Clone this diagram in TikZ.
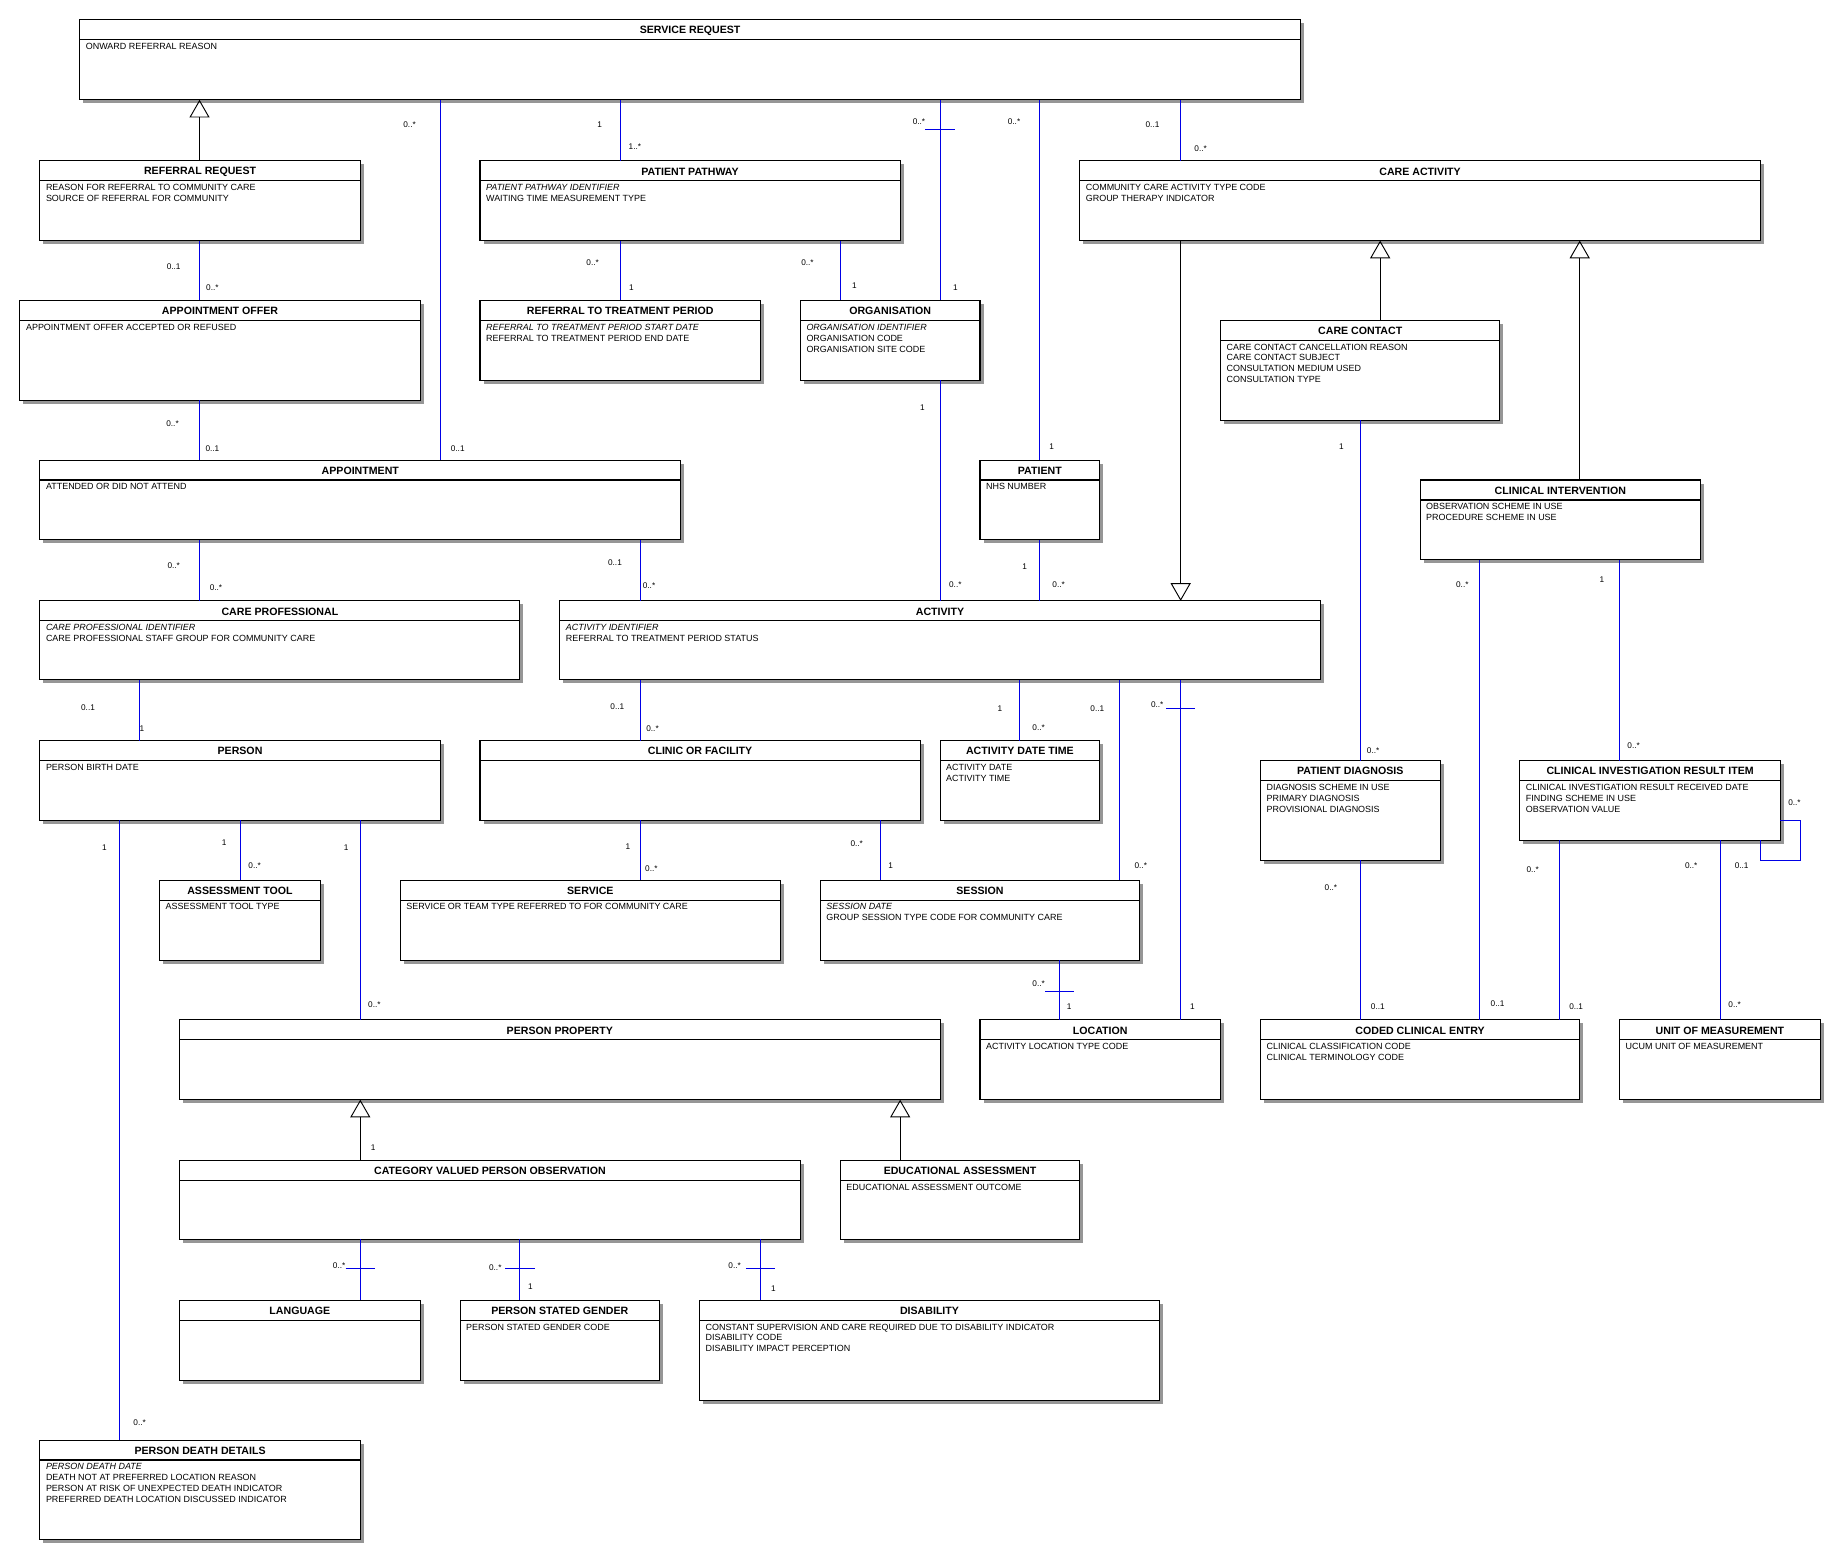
\documentclass[tikz,border=0pt]{standalone}
\usepackage{fontspec}
\setmainfont{Liberation Sans}
\usetikzlibrary{arrows.meta}
\definecolor{assocblue}{RGB}{0,0,230}
\definecolor{shadowgray}{RGB}{150,150,150}
\tikzset{
  clsbox/.style={draw=black, line width=0.9pt, fill=white, rectangle, inner sep=0pt, outer sep=0pt},
  titletext/.style={font=\bfseries\fontsize{9}{10}\selectfont, inner sep=0pt},
  attrtext/.style={font=\fontsize{7.6}{9.3}\selectfont, align=left, inner sep=0pt, anchor=north west},
  mult/.style={font=\fontsize{7}{8}\selectfont, inner sep=0pt},
  assoc/.style={draw=assocblue, line width=0.8pt},
  gen/.style={draw=black, line width=0.8pt, -{Triangle[open, width=17pt, length=15pt]}},
  boxshadow/.style={fill=shadowgray},
  hdrline/.style={draw=black, line width=0.9pt},
}
% #1 name, #2 left, #3 top, #4 right, #5 bottom, #6 title, #7 attributes
\newcommand{\umlcls}[7]{%
  \fill[boxshadow] (#2+3,#3+3) rectangle (#4+3,#5+3);
  \node[clsbox, anchor=north west, minimum width={(#4-#2)*0.995pt}, minimum height={(#5-#3)*0.995pt}] (#1) at (#2,#3) {};
  \draw[hdrline] (#2,#3+17) -- (#4,#3+17);
  \node[titletext] (#1-t) at ({(#2+#4)/2},#3+9) {#6};
  \node[attrtext] (#1-a) at (#2+5,#3+19.7) {#7};
}
\newcommand{\crossbar}[2]{\draw[assoc] (#1-12.5,#2) -- (#1+12.5,#2);}
\begin{document}
\begin{tikzpicture}[x=0.995pt,y=-0.995pt]
\path[fill=white] (0,0) rectangle (1567.8,1329.2);
\useasboundingbox (0,0) rectangle (1567.8,1329.2);

% ---------- classes ----------
\umlcls{sr}{68}{17}{1108}{85}{SERVICE REQUEST}{ONWARD REFERRAL REASON}
\umlcls{rr}{34}{137}{307}{205}{REFERRAL REQUEST}{REASON FOR REFERRAL TO COMMUNITY CARE\\SOURCE OF REFERRAL FOR COMMUNITY}
\umlcls{ppw}{409}{137}{767}{205}{PATIENT PATHWAY}{\textit{PATIENT PATHWAY IDENTIFIER}\\WAITING TIME MEASUREMENT TYPE}
\umlcls{ca}{920}{137}{1500}{205}{CARE ACTIVITY}{COMMUNITY CARE ACTIVITY TYPE CODE\\GROUP THERAPY INDICATOR}
\umlcls{ao}{17}{256}{358}{341}{APPOINTMENT OFFER}{APPOINTMENT OFFER ACCEPTED OR REFUSED}
\umlcls{rttp}{409}{256}{648}{324}{REFERRAL TO TREATMENT PERIOD}{\textit{REFERRAL TO TREATMENT PERIOD START DATE}\\REFERRAL TO TREATMENT PERIOD END DATE}
\umlcls{org}{682}{256}{835}{324}{ORGANISATION}{\textit{ORGANISATION IDENTIFIER}\\ORGANISATION CODE\\ORGANISATION SITE CODE}
\umlcls{cc}{1040}{273}{1278}{358}{CARE CONTACT}{CARE CONTACT CANCELLATION REASON\\CARE CONTACT SUBJECT\\CONSULTATION MEDIUM USED\\CONSULTATION TYPE}
\umlcls{appt}{34}{392}{580}{460}{APPOINTMENT}{ATTENDED OR DID NOT ATTEND}
\umlcls{pat}{835}{392}{937}{460}{PATIENT}{NHS NUMBER}
\umlcls{ci}{1210}{409}{1449}{477}{CLINICAL INTERVENTION}{OBSERVATION SCHEME IN USE\\PROCEDURE SCHEME IN USE}
\umlcls{cp}{34}{512}{443}{579}{CARE PROFESSIONAL}{\textit{CARE PROFESSIONAL IDENTIFIER}\\CARE PROFESSIONAL STAFF GROUP FOR COMMUNITY CARE}
\umlcls{act}{477}{512}{1125}{579}{ACTIVITY}{\textit{ACTIVITY IDENTIFIER}\\REFERRAL TO TREATMENT PERIOD STATUS}
\umlcls{per}{34}{631}{375}{699}{PERSON}{PERSON BIRTH DATE}
\umlcls{cof}{409}{631}{784}{699}{CLINIC OR FACILITY}{}
\umlcls{adt}{801}{631}{937}{699}{ACTIVITY DATE TIME}{ACTIVITY DATE\\ACTIVITY TIME}
\umlcls{pd}{1074}{648}{1227}{733}{PATIENT DIAGNOSIS}{DIAGNOSIS SCHEME IN USE\\PRIMARY DIAGNOSIS\\PROVISIONAL DIAGNOSIS}
\umlcls{ciri}{1295}{648}{1517}{716}{CLINICAL INVESTIGATION RESULT ITEM}{CLINICAL INVESTIGATION RESULT RECEIVED DATE\\FINDING SCHEME IN USE\\OBSERVATION VALUE}
\umlcls{at}{136}{750}{273}{818}{ASSESSMENT TOOL}{ASSESSMENT TOOL TYPE}
\umlcls{svc}{341}{750}{665}{818}{SERVICE}{SERVICE OR TEAM TYPE REFERRED TO FOR COMMUNITY CARE}
\umlcls{ses}{699}{750}{971}{818}{SESSION}{\textit{SESSION DATE}\\GROUP SESSION TYPE CODE FOR COMMUNITY CARE}
\umlcls{pp}{153}{869}{801}{937}{PERSON PROPERTY}{}
\umlcls{loc}{835}{869}{1040}{937}{LOCATION}{ACTIVITY LOCATION TYPE CODE}
\umlcls{cce}{1074}{869}{1346}{937}{CODED CLINICAL ENTRY}{CLINICAL CLASSIFICATION CODE\\CLINICAL TERMINOLOGY CODE}
\umlcls{uom}{1380}{869}{1551}{937}{UNIT OF MEASUREMENT}{UCUM UNIT OF MEASUREMENT}
\umlcls{cvpo}{153}{989}{682}{1056}{CATEGORY VALUED PERSON OBSERVATION}{}
\umlcls{ea}{716}{989}{920}{1056}{EDUCATIONAL ASSESSMENT}{EDUCATIONAL ASSESSMENT OUTCOME}
\umlcls{lang}{153}{1108}{358}{1176}{LANGUAGE}{}
\umlcls{psg}{392}{1108}{562}{1176}{PERSON STATED GENDER}{PERSON STATED GENDER CODE}
\umlcls{dis}{596}{1108}{988}{1193}{DISABILITY}{CONSTANT SUPERVISION AND CARE REQUIRED DUE TO DISABILITY INDICATOR\\DISABILITY CODE\\DISABILITY IMPACT PERCEPTION}
\umlcls{pdd}{34}{1227}{307}{1312}{PERSON DEATH DETAILS}{\textit{PERSON DEATH DATE}\\DEATH NOT AT PREFERRED LOCATION REASON\\PERSON AT RISK OF UNEXPECTED DEATH INDICATOR\\PREFERRED DEATH LOCATION DISCUSSED INDICATOR}

% ---------- generalisations ----------
\draw[gen] (rr.north -| 170,0) -- (sr.south -| 170,0);
\draw[gen] (cc.north -| 1176,0) -- (ca.south -| 1176,0);
\draw[gen] (ci.north -| 1346,0) -- (ca.south -| 1346,0);
\draw[gen] (ca.south -| 1006,0) -- (act.north -| 1006,0);
\draw[gen] (cvpo.north -| 307,0) -- (pp.south -| 307,0);
\draw[gen] (ea.north -| 767,0) -- (pp.south -| 767,0);
\node[mult] (g1) at (318,978) {1};

% ---------- associations ----------
\draw[assoc] (sr.south -| 375,0) -- (appt.north -| 375,0);
\node[mult] (m1) at (349,106) {0..*};
\node[mult] (m2) at (390,382) {0..1};

\draw[assoc] (sr.south -| 529,0) -- (ppw.north -| 529,0);
\node[mult] (m3) at (511,106) {1};
\node[mult] (m4) at (541,125) {1..*};

\draw[assoc] (sr.south -| 801,0) -- (org.north -| 801,0);
\crossbar{801}{110}
\node[mult] (m5) at (783,104) {0..*};
\node[mult] (m6) at (814,245) {1};

\draw[assoc] (sr.south -| 886,0) -- (pat.north -| 886,0);
\node[mult] (m7) at (864,104) {0..*};
\node[mult] (m8) at (896,381) {1};

\draw[assoc] (sr.south -| 1006,0) -- (ca.north -| 1006,0);
\node[mult] (m9) at (982,106) {0..1};
\node[mult] (m10) at (1023,127) {0..*};

\draw[assoc] (rr.south -| 170,0) -- (ao.north -| 170,0);
\node[mult] (m11) at (148,227) {0..1};
\node[mult] (m12) at (181,245) {0..*};

\draw[assoc] (ppw.south -| 529,0) -- (rttp.north -| 529,0);
\node[mult] (m13) at (505,224) {0..*};
\node[mult] (m14) at (538,245) {1};

\draw[assoc] (ppw.south -| 716,0) -- (org.north -| 716,0);
\node[mult] (m15) at (688,224) {0..*};
\node[mult] (m16) at (728,243) {1};

\draw[assoc] (ao.south -| 170,0) -- (appt.north -| 170,0);
\node[mult] (m17) at (147,361) {0..*};
\node[mult] (m18) at (181,382) {0..1};

\draw[assoc] (org.south -| 801,0) -- (act.north -| 801,0);
\node[mult] (m19) at (786,347) {1};
\node[mult] (m20) at (814,498) {0..*};

\draw[assoc] (pat.south -| 886,0) -- (act.north -| 886,0);
\node[mult] (m21) at (873,483) {1};
\node[mult] (m22) at (902,498) {0..*};

\draw[assoc] (cc.south -| 1159,0) -- (pd.north -| 1159,0);
\node[mult] (m23) at (1143,381) {1};
\node[mult] (m24) at (1170,640) {0..*};

\draw[assoc] (ci.south -| 1261,0) -- (cce.north -| 1261,0);
\node[mult] (m25) at (1246,498) {0..*};
\node[mult] (m26) at (1276,855) {0..1};

\draw[assoc] (ci.south -| 1380,0) -- (ciri.north -| 1380,0);
\node[mult] (m27) at (1365,494) {1};
\node[mult] (m28) at (1392,635) {0..*};

\draw[assoc] (appt.south -| 170,0) -- (cp.north -| 170,0);
\node[mult] (m29) at (148,482) {0..*};
\node[mult] (m30) at (184,501) {0..*};

\draw[assoc] (appt.south -| 546,0) -- (act.north -| 546,0);
\node[mult] (m31) at (524,479) {0..1};
\node[mult] (m32) at (553,499) {0..*};

\draw[assoc] (cp.south -| 119,0) -- (per.north -| 119,0);
\node[mult] (m33) at (75,603) {0..1};
\node[mult] (m34) at (121,621) {1};

\draw[assoc] (act.south -| 546,0) -- (cof.north -| 546,0);
\node[mult] (m35) at (526,602) {0..1};
\node[mult] (m36) at (556,621) {0..*};

\draw[assoc] (act.south -| 869,0) -- (adt.north -| 869,0);
\node[mult] (m37) at (852,604) {1};
\node[mult] (m38) at (885,620) {0..*};

\draw[assoc] (act.south -| 954,0) -- (ses.north -| 954,0);
\node[mult] (m39) at (935,604) {0..1};
\node[mult] (m40) at (972,738) {0..*};

\draw[assoc] (act.south -| 1006,0) -- (loc.north -| 1006,0);
\crossbar{1006}{604}
\node[mult] (m41) at (986,600) {0..*};
\node[mult] (m42) at (1016,858) {1};

\draw[assoc] (per.south -| 102,0) -- (pdd.north -| 102,0);
\node[mult] (m43) at (89,722) {1};
\node[mult] (m44) at (119,1212) {0..*};

\draw[assoc] (per.south -| 205,0) -- (at.north -| 205,0);
\node[mult] (m45) at (191,718) {1};
\node[mult] (m46) at (217,738) {0..*};

\draw[assoc] (per.south -| 307,0) -- (pp.north -| 307,0);
\node[mult] (m47) at (295,722) {1};
\node[mult] (m48) at (319,856) {0..*};

\draw[assoc] (cof.south -| 546,0) -- (svc.north -| 546,0);
\node[mult] (m49) at (535,721) {1};
\node[mult] (m50) at (555,740) {0..*};

\draw[assoc] (cof.south -| 750,0) -- (ses.north -| 750,0);
\node[mult] (m51) at (730,719) {0..*};
\node[mult] (m52) at (759,738) {1};

\draw[assoc] (ses.south -| 903,0) -- (loc.north -| 903,0);
\crossbar{903}{845}
\node[mult] (m53) at (885,838) {0..*};
\node[mult] (m54) at (911,858) {1};

\draw[assoc] (pd.south -| 1159,0) -- (cce.north -| 1159,0);
\node[mult] (m55) at (1134,756) {0..*};
\node[mult] (m56) at (1174,858) {0..1};

\draw[assoc] (ciri.south -| 1329,0) -- (cce.north -| 1329,0);
\node[mult] (m57) at (1306,741) {0..*};
\node[mult] (m58) at (1343,858) {0..1};

\draw[assoc] (ciri.south -| 1466,0) -- (uom.north -| 1466,0);
\node[mult] (m59) at (1441,738) {0..*};
\node[mult] (m60) at (1478,856) {0..*};

% self association on CLINICAL INVESTIGATION RESULT ITEM
\draw[assoc] (ciri.east |- 0,699) -- ++(17,0) |- (1500,733) -- (ciri.south -| 1500,0);
\node[mult] (m61) at (1529,684) {0..*};
\node[mult] (m62) at (1484,738) {0..1};

\draw[assoc] (cvpo.south -| 307,0) -- (lang.north -| 307,0);
\crossbar{307}{1081}
\node[mult] (m63) at (289,1078) {0..*};

\draw[assoc] (cvpo.south -| 443,0) -- (psg.north -| 443,0);
\crossbar{443}{1081}
\node[mult] (m64) at (422,1080) {0..*};
\node[mult] (m65) at (452,1096) {1};

\draw[assoc] (cvpo.south -| 648,0) -- (dis.north -| 648,0);
\crossbar{648}{1081}
\node[mult] (m66) at (626,1078) {0..*};
\node[mult] (m67) at (659,1098) {1};
\end{tikzpicture}
\end{document}
